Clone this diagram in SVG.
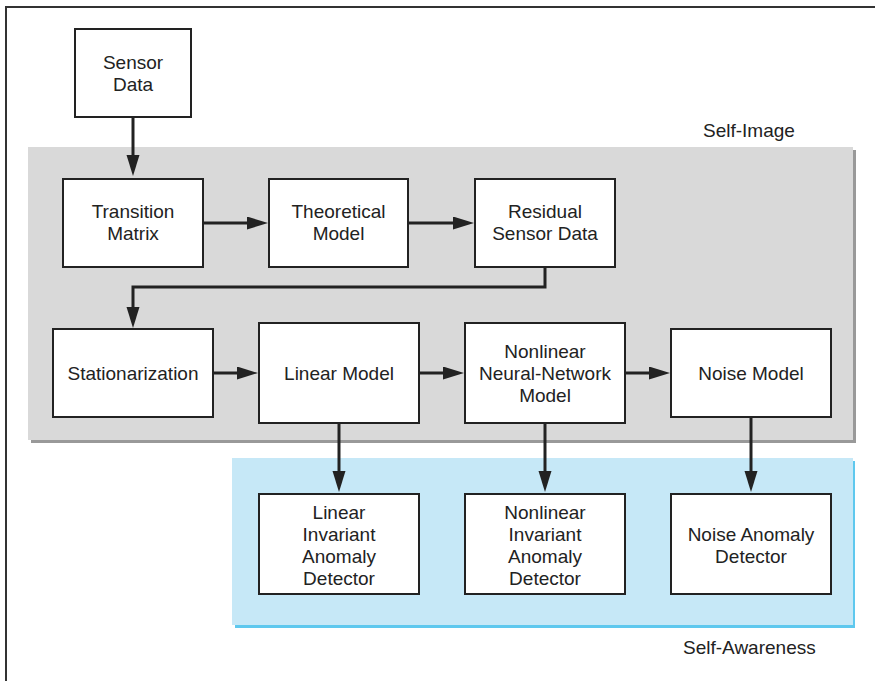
<svg xmlns="http://www.w3.org/2000/svg" width="875" height="681" viewBox="0 0 875 681">
<style>
.box{fill:#fff;stroke:#222;stroke-width:2}
.t{font-family:"Liberation Sans",Arial,sans-serif;font-size:19px;fill:#222;text-anchor:middle}
.lbl{font-family:"Liberation Sans",Arial,sans-serif;font-size:19px;fill:#222}
.c{fill:none;stroke:#222;stroke-width:3}
</style>
<defs>
<marker id="ah" markerUnits="userSpaceOnUse" markerWidth="22" markerHeight="14" refX="10" refY="6.5" orient="auto">
<path d="M0,0 L21,6.5 L0,13 z" fill="#222"/>
</marker>
</defs>
<rect width="875" height="681" fill="#fff"/>
<path d="M6,681 V7 H875" fill="none" stroke="#333" stroke-width="2"/>
<g id="self-image-panel">
<rect x="31" y="150" width="825" height="293" fill="#999"/>
<rect x="28" y="147" width="825" height="293" fill="#d9d9d9"/>
<text class="lbl" x="703" y="137">Self-Image</text>
</g>
<g id="self-awareness-panel">
<rect x="235" y="461" width="620" height="167" fill="#5ec8ee"/>
<rect x="232" y="458" width="621" height="167" fill="#c6e8f7"/>
<text class="lbl" x="683" y="654">Self-Awareness</text>
</g>
<g id="connectors">
<path class="c" d="M133,117 V165" marker-end="url(#ah)"/>
<path class="c" d="M203,223 V223 H257" marker-end="url(#ah)"/>
<path class="c" d="M408,223 H463" marker-end="url(#ah)"/>
<path class="c" d="M545,267 V287 H133 V317" marker-end="url(#ah)"/>
<path class="c" d="M213,373 H247" marker-end="url(#ah)"/>
<path class="c" d="M419,373 H453" marker-end="url(#ah)"/>
<path class="c" d="M625,373 H659" marker-end="url(#ah)"/>
<path class="c" d="M339,423 V481" marker-end="url(#ah)"/>
<path class="c" d="M545,423 V481" marker-end="url(#ah)"/>
<path class="c" d="M751,417 V481" marker-end="url(#ah)"/>
</g>
<g id="sensor-data">
<rect class="box" x="75" y="29" width="116" height="88"/>
<text class="t" x="133" y="69">Sensor</text>
<text class="t" x="133" y="91">Data</text>
</g>
<g id="transition-matrix">
<rect class="box" x="63" y="179" width="140" height="88"/>
<text class="t" x="133" y="218">Transition</text>
<text class="t" x="133" y="240">Matrix</text>
</g>
<g id="theoretical-model">
<rect class="box" x="269" y="179" width="139" height="88"/>
<text class="t" x="338.5" y="218">Theoretical</text>
<text class="t" x="338.5" y="240">Model</text>
</g>
<g id="residual-sensor-data">
<rect class="box" x="475" y="179" width="140" height="88"/>
<text class="t" x="545" y="218">Residual</text>
<text class="t" x="545" y="240">Sensor Data</text>
</g>
<g id="stationarization">
<rect class="box" x="53" y="329" width="160" height="88"/>
<text class="t" x="133" y="380">Stationarization</text>
</g>
<g id="linear-model">
<rect class="box" x="259" y="323" width="160" height="100"/>
<text class="t" x="339" y="380">Linear Model</text>
</g>
<g id="nonlinear-nn-model">
<rect class="box" x="465" y="323" width="160" height="100"/>
<text class="t" x="545" y="358">Nonlinear</text>
<text class="t" x="545" y="380">Neural-Network</text>
<text class="t" x="545" y="402">Model</text>
</g>
<g id="noise-model">
<rect class="box" x="671" y="329" width="160" height="88"/>
<text class="t" x="751" y="380">Noise Model</text>
</g>
<g id="linear-invariant-anomaly-detector">
<rect class="box" x="259" y="494" width="160" height="100"/>
<text class="t" x="339" y="519">Linear</text>
<text class="t" x="339" y="541">Invariant</text>
<text class="t" x="339" y="563">Anomaly</text>
<text class="t" x="339" y="585">Detector</text>
</g>
<g id="nonlinear-invariant-anomaly-detector">
<rect class="box" x="465" y="494" width="160" height="100"/>
<text class="t" x="545" y="519">Nonlinear</text>
<text class="t" x="545" y="541">Invariant</text>
<text class="t" x="545" y="563">Anomaly</text>
<text class="t" x="545" y="585">Detector</text>
</g>
<g id="noise-anomaly-detector">
<rect class="box" x="671" y="494" width="160" height="100"/>
<text class="t" x="751" y="541">Noise Anomaly</text>
<text class="t" x="751" y="563">Detector</text>
</g>
</svg>
